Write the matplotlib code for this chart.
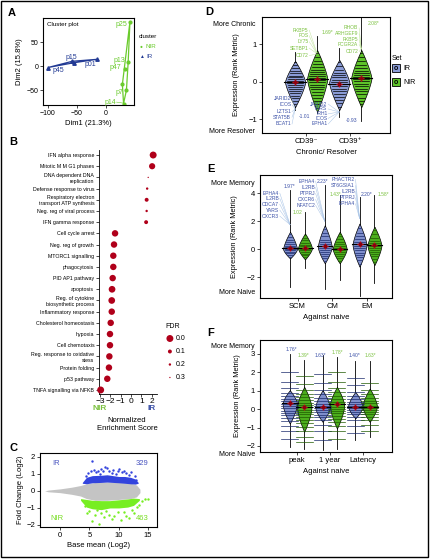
import numpy as np
import matplotlib.pyplot as plt
from matplotlib.patches import Rectangle

W, H = 430, 560
plt.rcParams['font.family'] = ['Liberation Sans', 'DejaVu Sans']
NARROW = ['Liberation Sans Narrow', 'Liberation Sans', 'DejaVu Sans']

IR_C = '#223a94'
NIR_C = '#6acb2c'
TXT_B = '#3d52a8'
TXT_G = '#7dc242'
LINE_B = '#a9c4e6'
LINE_G = '#c3e6a0'

# ---------------- data ----------------
# A: cluster plot
a_ir_x = [-100, -58, -55, -16]
a_ir_y = [-3, 10, 7, 14]
a_nir_x = [41, 38, 33, 35, 28, 30]
a_nir_y = [92, 9, -7, -50, -38, -78]

# B: enrichment
b_terms = ['IFN alpha response', 'Mitotic M M G1 phases', 'DNA dependent DNA\nreplication',
           'Defense response to virus', 'Respiratory electron\ntransport ATP synthesis',
           'Neg. reg of viral process', 'IFN gamma response', 'Cell cycle arrest',
           'Neg. reg of growth', 'MTORC1 signalling', 'phagocytosis', 'PID AP1 pathway',
           'apoptosis', 'Reg. of cytokine\nbiosynthetic process', 'Inflammatory response',
           'Cholesterol homeostasis', 'hypoxia', 'Cell chemotaxis',
           'Reg. response to oxidative\nstess', 'Protein folding', 'p53 pathway',
           'TNFA signalling via NFKB']
b_nes = [2.13, 2.03, 1.65, 1.55, 1.5, 1.5, 1.45, -1.55, -1.65, -1.72, -1.72, -1.78,
         -1.84, -1.87, -1.87, -1.97, -2.04, -2.04, -2.1, -2.14, -2.3, -2.94]
b_fdr = [0.0, 0.03, 0.3, 0.2, 0.1, 0.2, 0.1, 0.02, 0.02, 0.02, 0.02, 0.02,
         0.01, 0.01, 0.02, 0.02, 0.02, 0.02, 0.02, 0.02, 0.02, 0.0]
b_legend = [0.0, 0.1, 0.2, 0.3]

c_cloud_x = [-2.6, -2.0, 0, 2, 3.5, 4.5, 6, 8, 10, 12, 13, 13.6]
c_cloud_hi = [0.0, 0.05, 0.12, 0.22, 0.32, 0.42, 0.5, 0.52, 0.5, 0.45, 0.35, 0.1]
c_cloud_lo = [0.0, -0.05, -0.1, -0.2, -0.3, -0.45, -0.55, -0.55, -0.5, -0.45, -0.35, -0.1]
c_ir_x = [3.8, 4.5, 5.5, 7, 8, 9, 10, 11, 12, 12.8, 13.3]
c_ir_top = [0.5, 0.8, 0.9, 0.92, 0.95, 0.9, 0.85, 0.85, 0.8, 0.7, 0.5]
c_ir_bot = [0.45, 0.42, 0.48, 0.5, 0.52, 0.5, 0.48, 0.45, 0.42, 0.4, 0.45]
c_ir_px = [5.5, 4.8, 5.2, 6.2, 7.0, 7.6, 8.0, 8.4, 9.1, 9.8, 10.5, 11.3, 12.0, 12.7,
           13.0, 6.8, 10.0, 11.8, 5.8, 9.5, 7.3, 8.8, 10.9, 4.5, 6.5]
c_ir_py = [1.75, 1.05, 1.2, 1.1, 1.3, 1.4, 1.35, 1.2, 1.25, 1.15, 1.1, 1.05, 1.1, 0.85,
           0.65, 1.0, 1.3, 0.95, 1.25, 1.0, 1.15, 1.05, 1.2, 0.9, 1.2]
c_nir_x = [3.5, 4.5, 5.5, 7, 8.5, 10, 11.5, 12.5, 13.5]
c_nir_top = [-0.45, -0.5, -0.55, -0.57, -0.57, -0.52, -0.47, -0.42, -0.45]
c_nir_bot = [-0.55, -0.95, -1.05, -1.1, -1.0, -1.0, -0.95, -0.85, -0.55]
c_nir_px = [6.6, 5.4, 4.6, 7.5, 8.3, 9.2, 10.4, 11.2, 11.8, 12.6, 13.5, 14.0, 14.5, 15.0,
            6.0, 9.8, 7.0, 12.2, 5.0, 8.8, 10.9, 6.3, 13.1, 4.2, 7.9]
c_nir_py = [-1.95, -1.75, -1.3, -1.55, -1.4, -1.5, -1.7, -1.45, -1.6, -1.3, -0.8, -0.6,
            -0.45, -0.5, -1.4, -1.25, -1.3, -1.1, -1.2, -1.65, -1.25, -1.15, -0.95, -0.9, -1.2]
c_counts = ['329', '463']

# D: chronic / resolver beans (IR CD39-, NIR CD39-, IR CD39+, NIR CD39+)
d_cats = ['CD39⁻', 'CD39⁺']
d_body_lo = [-0.67, -0.8, -0.75, -0.67]
d_body_hi = [0.56, 0.85, 0.59, 0.85]
d_peak = [0.0, 0.08, -0.02, 0.1]
d_tail_lo = [-0.75, -0.82, -0.93, -1.04]
d_tail_hi = [0.8, 1.23, 0.91, 1.75]
d_mean = [0.0, 0.07, -0.05, 0.1]
d_lines = [
    [-0.58, -0.5, -0.43, -0.37, -0.3, -0.25, -0.19, -0.14, -0.09, -0.04, 0.02, 0.07, 0.12,
     0.17, 0.23, 0.29, 0.36, 0.44, 0.52],
    [-0.7, -0.6, -0.5, -0.42, -0.34, -0.27, -0.2, -0.13, -0.07, 0.0, 0.05, 0.1, 0.15, 0.2,
     0.26, 0.32, 0.4, 0.48, 0.57, 0.67, 0.77],
    [-0.66, -0.56, -0.47, -0.39, -0.32, -0.25, -0.18, -0.12, -0.06, 0.0, 0.06, 0.12, 0.18,
     0.25, 0.33, 0.42, 0.52],
    [-0.6, -0.5, -0.42, -0.33, -0.25, -0.18, -0.11, -0.05, 0.02, 0.08, 0.13, 0.18, 0.24,
     0.3, 0.37, 0.45, 0.55, 0.66, 0.77]]
d_genes = [['JARID2', 'ICOS', 'LZTS1', 'STAT5B', 'BCAT1'],
           ['FKBP5', 'FOS', 'LY75', 'SETBP1', 'CD72'],
           ['JARID2', 'YARS', 'IRH1', 'ICOS', 'EPHA1'],
           ['RHOB', 'ARHGEF9', 'FKBP5', 'FCGR2A', 'CD72']]
d_stars = ['-1.01', '1.69*', '-0.93', '2.08*']

# E: against naive (SCM, CM, EM)
e_cats = ['SCM', 'CM', 'EM']
e_body_lo = [-0.67, -0.74, -1.02, -1.02, -1.26, -1.14]
e_body_hi = [1.24, 1.12, 1.71, 1.24, 1.83, 1.6]
e_peak = [0.0, 0.05, 0.15, 0.0, 0.3, 0.25]
e_tail_lo = [-2.69, -1.38, -2.88, -2.21, -3.36, -2.45]
e_tail_hi = [4.26, 2.67, 4.57, 3.86, 3.74, 3.86]
e_mean = [0.1, 0.1, 0.2, 0.02, 0.35, 0.3]
e_lines = [
    [-0.55, -0.4, -0.28, -0.18, -0.08, 0.02, 0.12, 0.22, 0.34, 0.48, 0.65, 0.85, 1.05],
    [-0.6, -0.45, -0.32, -0.2, -0.1, 0.0, 0.1, 0.2, 0.32, 0.45, 0.62, 0.82, 1.0],
    [-0.85, -0.65, -0.48, -0.32, -0.18, -0.05, 0.08, 0.2, 0.34, 0.5, 0.68, 0.9, 1.15, 1.45],
    [-0.85, -0.65, -0.48, -0.32, -0.18, -0.05, 0.08, 0.2, 0.34, 0.5, 0.7, 0.92, 1.1],
    [-1.05, -0.8, -0.6, -0.42, -0.25, -0.1, 0.05, 0.2, 0.35, 0.52, 0.7, 0.92, 1.18, 1.5],
    [-0.95, -0.72, -0.52, -0.35, -0.2, -0.05, 0.1, 0.25, 0.4, 0.58, 0.8, 1.05, 1.35]]
e_genes = [['EPHA4', 'IL2RB', 'CDCA7', 'YARS', 'CXCR3'],
           ['EPHA4', 'IL2RB', 'PTPRJ', 'CXCR6', 'NFATC2'],
           ['PHACTR2', 'ST6GSIA1', 'IL2RB', 'PTPRJ', 'EPHA4']]
e_stars = ['1.97*', '1.02', '2.23*', '1.43*', '2.20*', '1.58*']

# F: against naive (peak, 1 year, Latency)
f_cats = ['peak', '1 year', 'Latency']
f_body_lo = [-0.78, -1.23, -0.69, -1.05, -0.5, -0.69]
f_body_hi = [1.03, 1.21, 1.03, 1.21, 0.94, 1.12]
f_peak = [0.3, 0.1, 0.1, 0.2, 0.15, 0.15]
f_tail_lo = [-2.05, -2.14, -2.23, -2.14, -1.68, -1.5]
f_tail_hi = [2.99, 2.66, 2.93, 2.84, 2.63, 2.63]
f_mean = [0.34, 0.13, 0.13, 0.26, 0.13, 0.13]
f_lines = [
    [-1.6, -1.2, -0.9, -0.65, -0.48, -0.33, -0.2, -0.08, 0.04, 0.16, 0.28, 0.42, 0.56,
     0.72, 0.9, 1.15, 1.5, 2.0],
    [-1.8, -1.5, -1.2, -0.95, -0.75, -0.58, -0.42, -0.28, -0.15, -0.03, 0.09, 0.21, 0.34,
     0.48, 0.64, 0.82, 1.05, 1.35, 1.8],
    [-1.7, -1.2, -0.85, -0.6, -0.45, -0.3, -0.18, -0.06, 0.06, 0.18, 0.3, 0.44, 0.6, 0.8,
     1.05, 1.4, 1.9],
    [-1.6, -1.2, -0.9, -0.7, -0.52, -0.37, -0.23, -0.1, 0.02, 0.14, 0.26, 0.4, 0.55, 0.72,
     0.92, 1.15, 1.5, 2.0],
    [-1.3, -0.9, -0.6, -0.42, -0.28, -0.15, -0.04, 0.06, 0.16, 0.27, 0.4, 0.55, 0.72, 0.95,
     1.3, 1.7],
    [-1.2, -0.85, -0.6, -0.42, -0.28, -0.15, -0.03, 0.08, 0.19, 0.31, 0.45, 0.6, 0.8, 1.05,
     1.4]]
f_stars = ['1.76*', '1.39*', '1.63*', '1.78*', '1.40*', '1.63*']

# ---------------- helpers ----------------
fig = plt.figure(figsize=(W / 100, H / 100), dpi=100)


def px_axes(l, t, r, b):
    return fig.add_axes([l / W, 1 - b / H, (r - l) / W, (b - t) / H])


def ftext(x, y, s, **kw):
    kw.setdefault('va', 'center')
    fig.text(x / W, 1 - y / H, s, **kw)


def bean(ax, x, lo, hi, pk, tlo, thi, mean, lines, fill, lcol, hw, p=1.0, linelen=None):
    ys = np.linspace(lo, hi, 80)
    t = np.where(ys < pk, (pk - ys) / (pk - lo), (ys - pk) / (hi - pk))
    w = hw * (1 - t ** p)
    ax.plot([x, x], [tlo, thi], color='black', lw=0.6, zorder=1)
    ax.fill_betweenx(ys, x - w, x + w, facecolor=fill, edgecolor='black', lw=0.5, zorder=2)
    for y in lines:
        half = linelen if linelen else 0.8 * np.interp(y, ys, w)
        ax.plot([x - half, x + half], [y, y], color=lcol, lw=0.5, zorder=3)
    ax.plot([x - hw * 1.1, x + hw * 1.1], [mean, mean], color='black', lw=0.8, zorder=4)
    ax.plot(x, mean, marker='+', color='#e0101a', ms=5, mew=0.9, zorder=5)
    ax.plot(x, mean, marker='o', color='#8b0010', ms=2, zorder=6)


def style_box(ax, fs=5.5):
    ax.tick_params(labelsize=fs, length=2, width=0.5, pad=1.5)
    for s in ax.spines.values():
        s.set_linewidth(0.8)


# ---------------- A ----------------
ax = px_axes(43, 18, 134, 105)
ax.fill([a_ir_x[i] for i in [0, 1, 3, 2]], [a_ir_y[i] for i in [0, 1, 3, 2]],
        facecolor='none', edgecolor=IR_C, lw=0.9)
ax.plot(a_ir_x, a_ir_y, '^', color=IR_C, ms=2.5)
ax.fill([a_nir_x[i] for i in [0, 1, 3, 5, 4]], [a_nir_y[i] for i in [0, 1, 3, 5, 4]],
        facecolor='none', edgecolor=NIR_C, lw=0.9)
ax.plot(a_nir_x, a_nir_y, 'o', color=NIR_C, ms=2)
for lab, xx, yy, ha in [('p45', -92, -9, 'left'), ('p15', -70, 17, 'left'),
                        ('p01', -38, 4, 'left')]:
    ax.text(xx, yy, lab, color=IR_C, fontsize=5, ha=ha, va='center')
for lab, xx, yy in [('p25', 36, 86), ('p13', 33, 12), ('p47', 26, -4),
                    ('p7', 30, -54), ('p14', 17, -75)]:
    ax.text(xx, yy, lab, color=NIR_C, fontsize=5, ha='right', va='center')
ax.plot([18, 29], [-75, -77], color=NIR_C, lw=0.4)
ax.text(0.04, 0.93, 'Cluster plot', transform=ax.transAxes, fontsize=4.5, va='center')
ax.set_xlim(-108.6, 48)
ax.set_ylim(-81, 100)
ax.set_xticks([-100, -50, 0])
ax.set_yticks([-50, 0, 50])
style_box(ax, 5)
ax.set_xlabel('Dim1 (21.3%)', family=NARROW, fontsize=5.5, labelpad=2)
ax.set_ylabel('Dim2 (15.8%)', family=NARROW, fontsize=5.5, labelpad=2)
ftext(139, 37, 'cluster', fontsize=4.5)
ftext(141, 47, '●', color=NIR_C, fontsize=3.5, ha='center')
ftext(146, 47, 'NIR', color=NIR_C, fontsize=4.5)
ftext(141, 56, '▲', color=IR_C, fontsize=3.5, ha='center')
ftext(146, 56, 'IR', color=IR_C, fontsize=4.5)

# ---------------- B ----------------
ax = px_axes(99, 150, 157, 394)
rows = np.arange(len(b_terms))
sizes = np.interp(b_fdr, [0, 0.1, 0.2, 0.3], [25, 8, 3, 0.9])
ax.scatter(b_nes, rows, s=sizes, color='#b0001a', linewidths=0, zorder=3, clip_on=False)
ax.set_ylim(21.36, -0.45)
ax.set_xlim(-3.1, 2.5)
ax.set_yticks(rows)
ax.set_yticklabels(b_terms, fontsize=3.8, linespacing=1.3)
ax.set_xticks([-3, -2, -1, 0, 1, 2])
ax.tick_params(axis='x', labelsize=6, length=2, width=0.5, pad=1)
ax.tick_params(axis='y', length=2, width=0.5, pad=1.5)
for s in ['top', 'right']:
    ax.spines[s].set_visible(False)
for s in ['left', 'bottom']:
    ax.spines[s].set_linewidth(0.6)
ftext(100, 409, 'NIR', color=TXT_G, fontsize=6, ha='center', weight='bold')
ftext(152, 409, 'IR', color=TXT_B, fontsize=6, ha='center', weight='bold')
ftext(127, 421, 'Normalized', family=NARROW, fontsize=5.5, ha='center')
ftext(127, 429, 'Enrichment Score', family=NARROW, fontsize=5.5, ha='center')
ftext(165, 326, 'FDR', fontsize=5)
lax = px_axes(165, 332, 200, 384)
lax.axis('off')
lax.set_xlim(0, 1)
lax.set_ylim(len(b_legend) - 0.5, -0.5)
lax.scatter([0.14] * len(b_legend), range(len(b_legend)),
            s=np.interp(b_legend, [0, 0.1, 0.2, 0.3], [25, 8, 3, 0.9]),
            color='#b0001a', linewidths=0)
for i, v in enumerate(b_legend):
    lax.text(0.32, i, '%.1f' % v, fontsize=5, va='center')

# ---------------- C ----------------
ax = px_axes(40, 453, 157, 527)
ax.fill_between(c_cloud_x, c_cloud_lo, c_cloud_hi, color='#c4c4c4', lw=0, zorder=1)
ax.fill_between(c_ir_x, c_ir_bot, c_ir_top, color='#3344dd', lw=0, zorder=2)
ax.scatter(c_ir_px, c_ir_py, s=3, color='#3344dd', linewidths=0, zorder=2)
ax.fill_between(c_nir_x, c_nir_bot, c_nir_top, color='#77ee22', lw=0, zorder=2)
ax.scatter(c_nir_px, c_nir_py, s=3, color='#77ee22', linewidths=0, zorder=2)
ax.text(-1.4, 1.6, 'IR', color='#4a55c0', fontsize=5.5, va='center')
ax.text(15, 1.6, c_counts[0], color='#4a55c0', fontsize=5.5, va='center', ha='right')
ax.text(-1.6, -1.6, 'NIR', color='#77dd22', fontsize=5.5, va='center')
ax.text(15, -1.6, c_counts[1], color='#77dd22', fontsize=5.5, va='center', ha='right')
ax.set_xlim(-3.4, 16.5)
ax.set_ylim(-2.12, 2.23)
ax.set_xticks([0, 5, 10, 15])
ax.set_yticks([-2, -1, 0, 1, 2])
style_box(ax, 5.5)
ax.set_xlabel('Base mean (Log2)', family=NARROW, fontsize=5.5, labelpad=2)
ax.set_ylabel('Fold Change (Log2)', family=NARROW, fontsize=5.5, labelpad=2)

# ---------------- D ----------------
ax = px_axes(262, 17, 390, 133)
d_x = [0.75, 1.25, 1.75, 2.25]
fills = ['#8a9bd5', '#5ec22a'] * 2
for i in range(4):
    bean(ax, d_x[i], d_body_lo[i], d_body_hi[i], d_peak[i], d_tail_lo[i], d_tail_hi[i],
         d_mean[i], d_lines[i], fills[i], 'black', 0.23, p=1.3)
d_lab_x = [0.66, 1.05, 1.48, 2.18]
d_lab_y = [[-0.45, -0.61, -0.79, -0.94, -1.12], [1.38, 1.23, 1.07, 0.9, 0.7],
           [-0.59, -0.72, -0.85, -0.97, -1.12], [1.44, 1.28, 1.12, 1.0, 0.81]]
d_target = [(0.75, -0.72), (1.25, 0.75), (1.75, -0.8), (2.25, 0.88)]
d_star_xy = [(0.84, -0.91), (1.34, 1.33), (1.89, -1.04), (2.39, 1.55)]
for i in range(4):
    tc = TXT_B if i % 2 == 0 else TXT_G
    lc = LINE_B if i % 2 == 0 else LINE_G
    for g, yy in zip(d_genes[i], d_lab_y[i]):
        ax.text(d_lab_x[i], yy, g, color=tc, fontsize=3.6, ha='right', va='center')
        ax.plot([d_lab_x[i] + 0.02, d_target[i][0]], [yy, d_target[i][1]], color=lc, lw=0.35)
    ax.text(*d_star_xy[i], d_stars[i], color=tc, fontsize=3.6, va='center')
ax.set_xlim(0, 2.9)
ax.set_ylim(-1.36, 1.73)
ax.set_xticks([1, 2])
ax.set_xticklabels(d_cats, family=['Liberation Sans', 'DejaVu Sans'])
ax.set_yticks([-1, 0, 1])
style_box(ax, 5.5)
ax.set_ylabel('Expression (Rank Metric)', family=NARROW, fontsize=5.3, labelpad=6)
ax.set_xlabel('Chronic/ Resolver', family=NARROW, fontsize=5.5, labelpad=3)
ftext(255, 24, 'More Chronic', fontsize=5, ha='right')
ftext(255, 131, 'More Resolver', fontsize=5, ha='right')
ftext(392, 58, 'Set', fontsize=5)
for yy, col, lab in [(68, '#8a9bd5', 'IR'), (82, '#5ec22a', 'NIR')]:
    fig.patches.append(Rectangle(((392) / W, 1 - (yy + 4) / H), 8 / W, 8 / H,
                                 transform=fig.transFigure, facecolor=col,
                                 edgecolor='black', lw=0.6))
    ftext(396, yy, 'o', fontsize=5, ha='center', weight='bold')
    ftext(403, yy, lab, fontsize=5)

# ---------------- E ----------------
ax = px_axes(260, 175, 392, 298)
e_x = [0.785, 1.215, 1.785, 2.215, 2.785, 3.215]
fills_e = ['#7f8fcc', '#4cae1d'] * 3
lcols = ['#1a2a6c', '#1f5a00'] * 3
for i in range(6):
    bean(ax, e_x[i], e_body_lo[i], e_body_hi[i], e_peak[i], e_tail_lo[i], e_tail_hi[i],
         e_mean[i], e_lines[i], fills_e[i], lcols[i], 0.2, p=1.4)
e_lab_x = [0.47, 1.5, 2.65]
e_lab_y = [[4.0, 3.62, 3.21, 2.79, 2.36], [4.86, 4.41, 3.98, 3.55, 3.14],
           [4.98, 4.55, 4.12, 3.67, 3.24]]
e_target = [(0.785, 1.75), (1.785, 2.0), (2.785, 2.2)]
for i in range(3):
    for g, yy in zip(e_genes[i], e_lab_y[i]):
        ax.text(e_lab_x[i], yy, g, color=TXT_B, fontsize=3.6, ha='right', va='center')
        ax.plot([e_lab_x[i] + 0.02, e_target[i][0]], [yy, e_target[i][1]], color=LINE_B, lw=0.35)
e_star_xy = [(0.78, 4.5), (1.0, 2.64), (1.73, 4.86), (2.1, 3.93), (2.99, 3.93), (3.46, 3.93)]
for i in range(6):
    ax.text(*e_star_xy[i], e_stars[i], color=TXT_B if i % 2 == 0 else TXT_G, fontsize=3.6,
            ha='center', va='center')
ax.set_xlim(-0.08, 3.72)
ax.set_ylim(-3.5, 5.3)
ax.set_xticks([1, 2, 3])
ax.set_xticklabels(e_cats)
ax.set_yticks([-2, 0, 2, 4])
style_box(ax, 5.5)
ax.set_ylabel('Expression (Rank Metric)', family=NARROW, fontsize=5.3, labelpad=6)
ax.set_xlabel('Against naive', family=NARROW, fontsize=5.5, labelpad=3)
ftext(255, 184, 'More Memory', fontsize=5, ha='right')
ftext(255, 292, 'More Naive', fontsize=5, ha='right')

# ---------------- F ----------------
ax = px_axes(260, 340, 392, 452)
f_x = [0.78, 1.22, 1.78, 2.22, 2.78, 3.22]
for i in range(6):
    bean(ax, f_x[i], f_body_lo[i], f_body_hi[i], f_peak[i], f_tail_lo[i], f_tail_hi[i],
         f_mean[i], f_lines[i], fills_e[i], lcols[i], 0.22, p=1.5, linelen=0.26)
f_star_xy = [(0.82, 3.26), (1.21, 2.93), (1.73, 2.93), (2.24, 3.1), (2.77, 2.93), (3.23, 2.93)]
for i in range(6):
    ax.text(*f_star_xy[i], f_stars[i], color=TXT_B if i % 2 == 0 else TXT_G, fontsize=3.6,
            ha='center', va='center')
ax.set_xlim(-0.13, 3.9)
ax.set_ylim(-2.33, 3.76)
ax.set_xticks([1, 2, 3])
ax.set_xticklabels(f_cats)
ax.set_yticks([-2, -1, 0, 1, 2, 3])
style_box(ax, 5.5)
ax.set_ylabel('Expression (Rank Metric)', family=NARROW, fontsize=5.3, labelpad=4)
ax.set_xlabel('Against naive', family=NARROW, fontsize=5.5, labelpad=3)
ftext(255, 346, 'More Memory', fontsize=5, ha='right')
ftext(255, 454, 'More Naive', fontsize=5, ha='right')

# ---------------- panel letters + frame ----------------
for lab, xx, yy in [('A', 8, 13), ('B', 9, 142), ('C', 9, 448),
                    ('D', 205, 12), ('E', 207, 169), ('F', 207, 333)]:
    ftext(xx, yy, lab, fontsize=8, weight='bold')
fig.patches.append(Rectangle((0.5 / W, 1 - 557 / H), 427.5 / W, 556.5 / H,
                             transform=fig.transFigure, facecolor='none',
                             edgecolor='black', lw=1.0))

fig.savefig('out.png', dpi=100)
